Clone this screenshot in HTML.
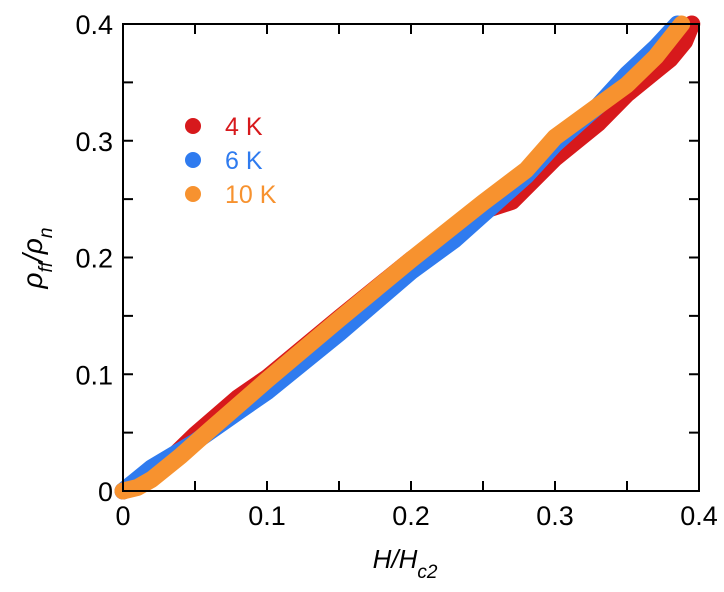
<!DOCTYPE html>
<html><head><meta charset="utf-8"><style>
body{margin:0;background:#fff;}
svg text{font-family:"Liberation Sans",Arial,sans-serif;}
</style></head><body>
<svg id="chart" width="724" height="587" viewBox="0 0 724 587" xmlns="http://www.w3.org/2000/svg">
<g id="series"></g>
<rect x="123" y="24" width="576" height="467" fill="none" stroke="#000" stroke-width="2"/>
<g id="axes"></g>
<text x="405" y="568" font-size="26" font-style="italic" text-anchor="middle">H/H<tspan font-size="19" dy="10">c2</tspan></text>
<text transform="translate(42,258) rotate(-90)" font-size="28" font-style="italic" text-anchor="middle">ρ<tspan font-size="19" dy="10">ff</tspan><tspan dy="-10">/ρ</tspan><tspan font-size="19" dy="10">n</tspan></text>
<g>
<circle cx="193" cy="126" r="8" fill="#d7191c"/>
<text x="225" y="135" font-size="25" fill="#d7191c">4 K</text>
<circle cx="193" cy="160" r="8" fill="#2f7bef"/>
<text x="225" y="169" font-size="25" fill="#2f7bef">6 K</text>
<circle cx="193" cy="194" r="8" fill="#f7922f"/>
<text x="225" y="203" font-size="25" fill="#f7922f">10 K</text>
</g>
</svg>
<script>
const xTicks=[0,0.1,0.2,0.3,0.4];
const yTicks=[0,0.1,0.2,0.3,0.4];
const xMinor=[0.05,0.15,0.25,0.35];
const yMinor=[0.05,0.15,0.25,0.35];
const hRed=[0,0.02,0.05,0.08,0.1,0.15,0.2,0.25,0.27,0.3,0.33,0.35,0.37,0.38,0.39,0.395];
const rRed=[0,0.012,0.048,0.08,0.097,0.148,0.198,0.24,0.248,0.285,0.315,0.34,0.36,0.37,0.385,0.4];
const hBlue=[0,0.02,0.05,0.08,0.1,0.15,0.2,0.23,0.25,0.28,0.3,0.33,0.35,0.37,0.385];
const rBlue=[0,0.02,0.042,0.068,0.085,0.135,0.188,0.215,0.237,0.27,0.297,0.33,0.357,0.38,0.4];
const hOrange=[0,0.01,0.02,0.04,0.06,0.1,0.15,0.2,0.25,0.28,0.3,0.33,0.35,0.37,0.388];
const rOrange=[0,0.003,0.01,0.03,0.052,0.095,0.147,0.198,0.247,0.275,0.303,0.33,0.348,0.372,0.4];
const X0=123,X1=699,Y0=491,Y1=24;
const xs=v=>X0+(v/0.4)*(X1-X0);
const ys=v=>Y0-(v/0.4)*(Y0-Y1);
const NS='http://www.w3.org/2000/svg';
const ax=document.getElementById('axes');
function line(x1,y1,x2,y2,name){const l=document.createElementNS(NS,'line');l.setAttribute('x1',x1);l.setAttribute('y1',y1);l.setAttribute('x2',x2);l.setAttribute('y2',y2);l.setAttribute('stroke','#000');l.setAttribute('stroke-width','2');


ax.appendChild(l);}
function txt(x,y,s,anchor,name){const t=document.createElementNS(NS,'text');t.setAttribute('x',x);t.setAttribute('y',y);t.setAttribute('font-size','27');t.setAttribute('text-anchor',anchor);t.textContent=s;


ax.appendChild(t);}
xTicks.forEach(v=>{const x=xs(v);line(x,Y0,x,Y0-10,'x-tick');line(x,Y1,x,Y1+10,'x-tick-top');txt(x,525,String(v),'middle','x-tick-label');});
yTicks.forEach(v=>{const y=ys(v);line(X0,y,X0+10,y,'y-tick');line(X1,y,X1-10,y,'y-tick-right');txt(X0-10,y+10,String(v),'end','y-tick-label');});
xMinor.forEach(v=>{const x=xs(v);line(x,Y0,x,Y0-10,'x-minor-tick');line(x,Y1,x,Y1+10,'x-minor-tick-top');});
yMinor.forEach(v=>{const y=ys(v);line(X0,y,X0+10,y,'y-minor-tick');line(X1,y,X1-10,y,'y-minor-tick-right');});
const sg=document.getElementById('series');
function series(h,r,color,name){const p=document.createElementNS(NS,'polyline');p.setAttribute('points',h.map((v,i)=>xs(v)+','+ys(r[i])).join(' '));p.setAttribute('fill','none');p.setAttribute('stroke',color);p.setAttribute('stroke-width','17');p.setAttribute('stroke-linecap','round');p.setAttribute('stroke-linejoin','round');


sg.appendChild(p);}
series(hRed,rRed,'#d7191c','series-4k');
series(hBlue,rBlue,'#2f7bef','series-6k');
series(hOrange,rOrange,'#f7922f','series-10k');
</script>
</body></html>
